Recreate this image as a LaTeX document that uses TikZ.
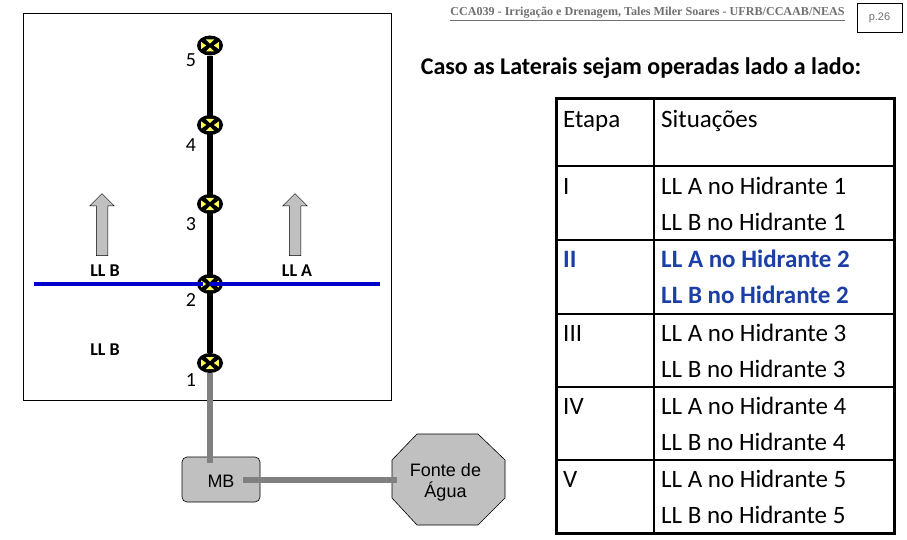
\documentclass[tikz,border=0pt]{standalone}
\usepackage{fontspec}
\setmainfont{Carlito}
\newfontfamily\arialfont{Liberation Sans}
\newfontfamily\timesfont{Liberation Serif}
\usetikzlibrary{shapes}
\usetikzlibrary{shapes.arrows}
\usetikzlibrary{calc}
\definecolor{silverfill}{HTML}{C0C0C0}
\definecolor{pipegray}{HTML}{808080}
\definecolor{lateralblue}{HTML}{0000CC}
\definecolor{rowblue}{HTML}{1C3FA6}
\definecolor{valveyellow}{HTML}{FFFF55}
\definecolor{headergray}{HTML}{707070}
\tikzset{
  valve/.style={ellipse, fill=black, inner sep=0pt, minimum width=26pt, minimum height=20pt},
  mainline/.style={line width=6pt, black},
  feedline/.style={line width=6pt, pipegray},
  lateral/.style={line width=4pt, lateralblue},
  numlabel/.style={font=\fontsize{20}{20}\selectfont},
  lllabel/.style={font=\fontsize{18}{18}\selectfont\bfseries},
  tabletext/.style={anchor=base west, inner sep=0pt, font=\fontsize{25}{25}\selectfont},
  bluetext/.style={tabletext, text=rowblue, font=\fontsize{25}{25}\selectfont\bfseries},
  tablerule/.style={line width=2pt},
  tableframe/.style={line width=3pt},
  moveup/.style={single arrow, draw=black, line width=0.5pt, fill=silverfill, rotate=90, inner sep=5.5pt,
    minimum height=62pt, minimum width=24pt, single arrow head extend=6.5pt, single arrow head indent=0pt}
}
\newcommand{\valvemarks}[1]{%
  \fill[valveyellow] ($(#1)+(0,-1.8)$) -- ++(-4,-4.2) -- ++(8,0) -- cycle;
  \fill[valveyellow] ($(#1)+(0,1.8)$) -- ++(-4,4.2) -- ++(8,0) -- cycle;
  \fill[valveyellow] ($(#1)+(-3.8,0)$) -- ++(-5,-3.5) -- ++(0,7) -- cycle;
  \fill[valveyellow] ($(#1)+(3.8,0)$) -- ++(5,-3.5) -- ++(0,7) -- cycle;
}

\begin{document}
\begin{tikzpicture}[x=1pt, y=-1pt]
	\useasboundingbox (0,0) rectangle (907,540);
	\fill[white] (0,0) rectangle (907,540);

	% field
	\node (field) at (207,207) [draw=black, line width=1pt, minimum width=368pt, minimum height=386pt, inner sep=0pt] {};

	\node (h5) at (210,45.5) [valve] {};
	\node (h4) at (210,125) [valve] {};
	\node (h3) at (210,204) [valve] {};
	\node (h2) at (210,284) [valve] {};
	\node (h1) at (210,363) [valve] {};
	\draw[mainline] (h5) -- (h1);
	\valvemarks{h5}
	\valvemarks{h4}
	\valvemarks{h3}
	\valvemarks{h2}
	\valvemarks{h1}

	\node (n5) at (191,60) [numlabel] {5};
	\node (n4) at (191,145) [numlabel] {4};
	\node (n3) at (191,224) [numlabel] {3};
	\node (n2) at (191,300) [numlabel] {2};
	\node (n1) at (191,380) [numlabel] {1};

	% laterals
	\coordinate (endb) at (34,283.5);
	\coordinate (enda) at (380,283.5);
	\coordinate (hubb) at (203,283.5);
	\coordinate (huba) at (209,283.5);
	\draw[lateral] (endb) -- (hubb);
	\draw[lateral] (huba) -- (enda);
	\node (moveb) at (102,227.5) [moveup] {};
	\node (movea) at (295,227.5) [moveup] {};
	\node (lbtop) at (105,271) [lllabel] {LL B};
	\node (latop) at (297,271) [lllabel] {LL A};
	\node (lbbot) at (105,350) [lllabel] {LL B};

	% pump and source
	\node (mb) at (221,479.5) [draw=black, line width=0.6pt, fill=silverfill, rounded corners=5pt, minimum width=78pt, minimum height=45pt, inner sep=0pt] {};
	\draw[fill=silverfill, draw=black, line width=0.6pt] (417,434) -- (478,434) -- (505,460) -- (505,498) -- (478,525) -- (417,525) -- (392,498) -- (392,460) -- cycle;
	\coordinate (mbtop) at (210,463);
	\coordinate (mbout) at (243,480);
	\coordinate (srcin) at (397,480);
	\draw[feedline] (h1) -- (mbtop);
	\draw[feedline] (mbout) -- (srcin);
	\node (mbtext) at (221,481.5) [font=\arialfont\fontsize{18}{18}\selectfont] {MB};
	\node (fonte) at (445.5,482) [align=center, font=\arialfont\fontsize{18}{21}\selectfont] {Fonte de\\Água};

	% header
	\node (header) at (647.5,14) [text=headergray, font=\timesfont\bfseries\fontsize{12.1}{12}\selectfont] {\underline{CCA039 - Irrigação e Drenagem, Tales Miler Soares - UFRB/CCAAB/NEAS}};
	\node (page) at (879.5,17.5) [draw=black, line width=0.6pt, minimum width=45pt, minimum height=29pt, inner sep=0pt, text=headergray, font=\arialfont\fontsize{11}{11}\selectfont] {p.26};
	\node (title) at (641,68) [font=\fontsize{24}{24}\selectfont\bfseries] {Caso as Laterais sejam operadas lado a lado:};

	% table
	\draw[tablerule] (556,166) -- (894,166);
	\draw[tablerule] (556,240) -- (894,240);
	\draw[tablerule] (556,314) -- (894,314);
	\draw[tablerule] (556,387) -- (894,387);
	\draw[tablerule] (556,460) -- (894,460);
	\draw[tablerule] (654,99) -- (654,533);
	\draw[tableframe] (556,99) rectangle (894,533);

	\node (etapa) at (563,128) [tabletext] {Etapa};
	\node (situa) at (661,128) [tabletext] {Situações};
	\node (r1) at (563,194) [tabletext] {I};
	\node (a1) at (661,194) [tabletext] {LL A no Hidrante 1};
	\node (b1) at (661,230) [tabletext] {LL B no Hidrante 1};
	\node (r2) at (563,267) [bluetext] {II};
	\node (a2) at (661,267) [bluetext] {LL A no Hidrante 2};
	\node (b2) at (661,303) [bluetext] {LL B no Hidrante 2};
	\node (r3) at (563,341) [tabletext] {III};
	\node (a3) at (661,341) [tabletext] {LL A no Hidrante 3};
	\node (b3) at (661,377) [tabletext] {LL B no Hidrante 3};
	\node (r4) at (563,414) [tabletext] {IV};
	\node (a4) at (661,414) [tabletext] {LL A no Hidrante 4};
	\node (b4) at (661,450) [tabletext] {LL B no Hidrante 4};
	\node (r5) at (563,487) [tabletext] {V};
	\node (a5) at (661,487) [tabletext] {LL A no Hidrante 5};
	\node (b5) at (661,523) [tabletext] {LL B no Hidrante 5};
\end{tikzpicture}
\end{document}
